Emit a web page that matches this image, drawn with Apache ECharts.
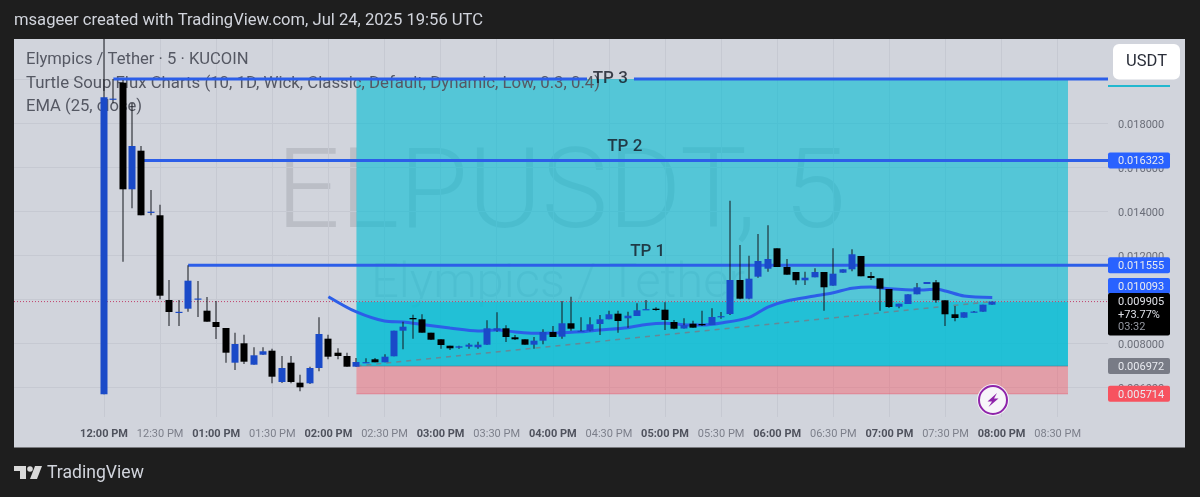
<!DOCTYPE html>
<html>
<head>
<meta charset="utf-8">
<style>
  html, body { margin: 0; padding: 0; background: #1e1e1e; }
  #chart { width: 1200px; height: 497px; }
</style>
<script src="https://cdn.jsdelivr.net/npm/echarts@6/dist/echarts.min.js"></script>
</head>
<body>
<div id="chart"></div>
<script>
// bars are counted from the 12:00 PM candle, one bar = 5 minutes
const opens = [
  0.005691,0.019100,0.019855,0.015009,0.016764,0.013970,0.013828,0.009978,0.009425,0.009582,
  0.010030,0.009491,0.008978,0.008705,0.007128,0.008009,0.007037,0.007491,0.007673,0.006250,
  0.007128,0.006219,0.006191,0.006887,0.008219,0.007582,0.007432,0.006946,0.007139,0.007282,
  0.007146,0.007419,0.008582,0.009159,0.009100,0.008491,0.008191,0.007900,0.007809,0.007855,
  0.007828,0.007946,0.008582,0.008691,0.008282,0.008191,0.007946,0.008128,0.008523,0.008309,
  0.008919,0.008562,0.008582,0.008887,0.009100,0.009355,0.009146,0.009250,0.009548,0.009582,
  0.009537,0.008978,0.008682,0.008900,0.008887,0.008841,0.009230,0.009341,0.010887,0.010037,
  0.011037,0.011400,0.012328,0.011478,0.011250,0.010873,0.011009,0.011250,0.010628,0.011219,
  0.011373,0.011978,0.011068,0.010964,0.010478,0.009673,0.009796,0.010237,0.010705,0.010782,
  0.009964,0.009328,0.009173,0.009440,0.009446,0.009764
];
const closes = [
  0.019191,0.019130,0.015009,0.016978,0.013828,0.013990,0.010173,0.009432,0.009440,0.010855,
  0.010045,0.008991,0.008750,0.007582,0.007978,0.007173,0.007464,0.007646,0.006491,0.006887,
  0.006250,0.006009,0.006887,0.008432,0.007400,0.007432,0.006946,0.007159,0.007153,0.007146,
  0.007400,0.008582,0.008764,0.009100,0.008491,0.008173,0.007932,0.007782,0.007873,0.007946,
  0.007946,0.008691,0.008691,0.008296,0.008191,0.007946,0.008128,0.008523,0.008296,0.008919,
  0.008673,0.008576,0.008873,0.009100,0.009328,0.009023,0.009264,0.009509,0.009562,0.009523,
  0.009069,0.008673,0.008832,0.008719,0.008828,0.009205,0.009244,0.010887,0.010037,0.010946,
  0.011750,0.011841,0.011478,0.011128,0.010873,0.010991,0.011250,0.010555,0.011173,0.011373,
  0.012055,0.011055,0.010978,0.010491,0.009659,0.009809,0.010237,0.010555,0.010796,0.009964,
  0.009328,0.009159,0.009419,0.009452,0.009764,0.009905
];
const lows = [
  0.005691,0.018932,0.011719,0.014146,0.013828,0.013828,0.010009,0.008796,0.008796,0.009446,
  0.009205,0.008991,0.008205,0.007128,0.006796,0.007069,0.007037,0.007477,0.006191,0.006205,
  0.006191,0.005828,0.006159,0.006737,0.007282,0.007282,0.006946,0.006946,0.007114,0.007146,
  0.007146,0.007419,0.007737,0.008219,0.008491,0.008159,0.007764,0.007705,0.007764,0.007764,
  0.007764,0.007946,0.008537,0.008069,0.008159,0.007946,0.007764,0.007964,0.008296,0.008219,
  0.008582,0.008523,0.008555,0.008387,0.009100,0.008491,0.008719,0.009250,0.009532,0.009491,
  0.008614,0.008646,0.008682,0.008719,0.008796,0.008841,0.009128,0.009296,0.010009,0.010009,
  0.010991,0.011264,0.011478,0.011128,0.010673,0.010659,0.011009,0.009491,0.010628,0.011219,
  0.011282,0.011055,0.010887,0.009491,0.009614,0.009600,0.009796,0.010237,0.010705,0.009855,
  0.008796,0.009009,0.009173,0.009419,0.009446,0.009764
];
const highs = [
  0.023500,0.020023,0.019978,0.018932,0.016978,0.014978,0.014309,0.010887,0.009978,0.011555,
  0.010841,0.010114,0.009932,0.008705,0.008491,0.008400,0.007828,0.007828,0.007764,0.007432,
  0.007432,0.006582,0.006946,0.009191,0.008400,0.007782,0.007582,0.007341,0.007328,0.007341,
  0.007509,0.008582,0.008991,0.009309,0.009328,0.008491,0.008191,0.007900,0.007900,0.008009,
  0.008082,0.009055,0.009419,0.008828,0.008387,0.008191,0.008296,0.008646,0.008796,0.009932,
  0.010128,0.009191,0.009191,0.009296,0.009491,0.009491,0.009446,0.009828,0.009978,0.009646,
  0.009873,0.009069,0.009146,0.009037,0.009491,0.009600,0.009432,0.014491,0.012478,0.011991,
  0.012978,0.013373,0.012328,0.011841,0.011250,0.011264,0.011419,0.011250,0.012328,0.011373,
  0.012282,0.011978,0.011250,0.010964,0.010478,0.009809,0.010237,0.010750,0.010796,0.010887,
  0.009964,0.009705,0.009419,0.009478,0.009764,0.009905
];

// EMA (25)
const emaBars = [24,27,30,32,34,37,40,42,44,46,48,51,53,56,58,60,62,64,66,69,71,73,76,78,80,82,84,87,89,90,92,95];
const emaValues = [
  0.010128,0.009432,0.009023,0.008978,0.008864,0.008705,0.008569,0.008614,0.008523,0.008464,0.008478,
  0.008537,0.008614,0.008719,0.008864,0.008919,0.008855,0.008841,0.008932,0.009191,0.009659,0.009932,
  0.010159,0.010309,0.010509,0.010568,0.010487,0.010432,0.010464,0.010387,0.010159,0.010093
];

// trade levels
const tp3 = 0.020020;
const tp2 = 0.016323;
const tp1 = 0.011555;
const ema = 0.010093;
const lastPrice = 0.009905;
const entry = 0.006972;
const stop = 0.005714;
const lastChange = '+73.77%';
const countdown = '03:32';

// bar where each level starts / where the trade box sits
const tp3Start = 1;
const tp3GapFrom = 51.66;
const tp3GapTo = 56.68;
const tp2Start = 4;
const tp1Start = 9;
const boxStart = 27;
const boxEnd = 103.1;
const tpLabelBars = [54.15, 55.7, 58.15];
const tpLabels = ['TP 3', 'TP 2', 'TP 1'];

const priceTicks = [0.006, 0.008, 0.010, 0.012, 0.014, 0.016, 0.018, 0.020];
const priceLabels = [0.006, 0.008, 0.010, 0.012, 0.014, 0.016, 0.018];
const timeBars = [0,6,12,18,24,30,36,42,48,54,60,66,72,78,84,90,96,102];
const timeLabels = [
  '12:00 PM','12:30 PM','01:00 PM','01:30 PM','02:00 PM','02:30 PM','03:00 PM','03:30 PM','04:00 PM',
  '04:30 PM','05:00 PM','05:30 PM','06:00 PM','06:30 PM','07:00 PM','07:30 PM','08:00 PM','08:30 PM'
];

const xMin = -9.626;
const xMax = 107.38;
const yMin = 0.0046591;
const yMax = 0.0218409;

const BLUE = '#1a4ac8';
const LINE_BLUE = '#2c5ee8';
const FONT = 'Roboto';

const candleRows = opens.map((o, i) => [i, o, closes[i], lows[i], highs[i]]);

const renderCandle = (params, api) => {
  const x = api.value(0);
  const open = api.value(1);
  const close = api.value(2);
  const top = api.coord([x, Math.max(open, close)]);
  const bottom = api.coord([x, Math.min(open, close)]);
  const high = api.coord([x, api.value(4)]);
  const low = api.coord([x, api.value(3)]);
  const cx = Math.round(top[0]);
  return {
    type: 'group',
    children: [
      {
        type: 'rect',
        shape: { x: cx - 0.5, y: high[1], width: 1, height: low[1] - high[1] },
        style: { fill: '#15161c' }
      },
      {
        type: 'rect',
        shape: { x: cx - 3.5, y: top[1], width: 7, height: Math.max(bottom[1] - top[1], 1.2) },
        style: { fill: close > open ? BLUE : '#000' }
      }
    ]
  };
};

// right scale tags, the ema tag is pushed up by the scale so it clears the last price
const tagPrices = [tp2, tp1, ema, entry, stop];
const tagColors = ['#2962ff', '#2962ff', '#2962ff', '#787b86', '#f7525f'];
const tagShift = [0, 0, -11.5, 0, 0];

const renderTag = (params, api) => {
  const i = params.dataIndex;
  const y = api.coord([0, api.value(0)])[1] + tagShift[i];
  return {
    type: 'group',
    children: [
      {
        type: 'rect',
        shape: { x: 1108, y: y - 8, width: 62, height: 16, r: 2 },
        style: { fill: tagColors[i] }
      },
      {
        type: 'text',
        style: {
          x: 1118, y: y + 1, text: api.value(0).toFixed(6), fill: '#e8eaf0',
          font: '11px ' + FONT, verticalAlign: 'middle'
        }
      }
    ]
  };
};

const renderLastPrice = (params, api) => {
  const y = api.coord([0, api.value(0)])[1];
  const line = (text, dy, fill) => ({
    type: 'text',
    style: { x: 1118, y: y + dy, text: text, fill: fill, font: '11px ' + FONT, verticalAlign: 'middle' }
  });
  return {
    type: 'group',
    children: [
      { type: 'rect', shape: { x: 1108, y: y - 8.5, width: 62, height: 42.5, r: 2 }, style: { fill: '#000' } },
      line(api.value(0).toFixed(6), 1, '#dfe1e8'),
      line(lastChange, 14, '#dfe1e8'),
      line(countdown, 26, '#9598a1')
    ]
  };
};

const chart = echarts.init(document.getElementById('chart'), null, { renderer: 'canvas' });

chart.setOption({
  animation: false,
  backgroundColor: '#1e1e1e',
  textStyle: { fontFamily: FONT },
  grid: { left: 14, top: 39, width: 1094, height: 378 },
  xAxis: {
    type: 'value',
    min: xMin,
    max: xMax,
    axisLine: { show: false },
    axisTick: { show: false, customValues: timeBars },
    splitLine: { show: true, lineStyle: { color: '#c6c9d2', width: 1 } },
    axisLabel: {
      customValues: timeBars,
      margin: 12,
      hideOverlap: false,
      formatter: (value) => {
        const i = timeBars.indexOf(value);
        return i % 2 === 0 ? '{hour|' + timeLabels[i] + '}' : '{half|' + timeLabels[i] + '}';
      },
      rich: {
        hour: { fontFamily: FONT, fontSize: 11, fontWeight: 700, color: '#4f525d' },
        half: { fontFamily: FONT, fontSize: 11, color: '#7c7f8a' }
      }
    }
  },
  yAxis: {
    type: 'value',
    position: 'right',
    min: yMin,
    max: yMax,
    axisLine: { show: false },
    axisTick: { show: false, customValues: priceTicks },
    splitLine: { show: true, lineStyle: { color: '#c6c9d2', width: 1 } },
    axisLabel: {
      customValues: priceLabels,
      margin: 10,
      formatter: (value) => '{p|' + value.toFixed(6) + '}',
      rich: {
        p: { fontFamily: FONT, fontSize: 11, color: '#6a6d78', padding: [3, 0, 0, 0] }
      }
    }
  },
  graphic: [
    { type: 'rect', z: -10, shape: { x: 14, y: 39, width: 1171, height: 408.5 }, style: { fill: '#d1d4dc' } },
    {
      type: 'text', z: -9, x: 14, y: 21,
      style: {
        text: 'msageer created with TradingView.com, Jul 24, 2025 19:56 UTC',
        fill: '#d1d4dc', font: '16.6px ' + FONT, verticalAlign: 'middle'
      }
    },
    {
      type: 'text', z: -9, x: 561, y: 199,
      style: {
        text: 'ELPUSDT, 5', fill: 'rgba(110,113,124,0.22)', font: '300 112px ' + FONT,
        align: 'center', verticalAlign: 'middle'
      }
    },
    {
      type: 'text', z: -9, x: 558, y: 285,
      style: {
        text: 'Elympics / Tether', fill: 'rgba(110,113,124,0.16)', font: '300 49px ' + FONT,
        align: 'center', verticalAlign: 'middle'
      }
    },

    // legend sits above the trade box but under lines and candles
    { type: 'text', z: 1.5, x: 26, y: 60, style: { text: 'Elympics / Tether · 5 · KUCOIN', fill: '#555863', font: '16.6px ' + FONT, verticalAlign: 'middle' } },
    { type: 'text', z: 1.5, x: 26, y: 84, style: { text: 'Turtle Soup Flux Charts (10, 1D, Wick, Classic, Default, Dynamic, Low, 0.3, 0.4)', fill: '#555863', font: '16.8px ' + FONT, verticalAlign: 'middle' } },
    { type: 'text', z: 1.5, x: 26, y: 107, style: { text: 'EMA (25, close)', fill: '#555863', font: '16.6px ' + FONT, verticalAlign: 'middle' } },

    // USDT button and what is left of the tp3 tag under it
    { type: 'rect', z: 20, shape: { x: 1108, y: 85, width: 62, height: 2 }, style: { fill: '#22b8cf' } },
    { type: 'rect', z: 21, shape: { x: 1113, y: 44, width: 67, height: 35.5, r: 6 }, style: { fill: '#fff' } },
    { type: 'text', z: 22, x: 1146.5, y: 61.5, style: { text: 'USDT', fill: '#2a2e39', font: '16.5px ' + FONT, align: 'center', verticalAlign: 'middle' } },

    // lightning badge
    { type: 'circle', z: 20, shape: { cx: 993, cy: 400, r: 16 }, style: { fill: '#f4f0f6' } },
    { type: 'circle', z: 20, shape: { cx: 993, cy: 400, r: 14 }, style: { fill: '#f7f5f9', stroke: '#8e24aa', lineWidth: 2 } },
    { type: 'polygon', z: 21, shape: { points: [[997, 393], [987.5, 401.5], [992, 401.5], [988.5, 407], [998.5, 398.5], [994, 398.5]] }, style: { fill: '#8e24aa' } },

    // footer logo
    { type: 'rect', z: 5, shape: { x: 14, y: 466, width: 12, height: 5 }, style: { fill: '#d9d9d9' } },
    { type: 'rect', z: 5, shape: { x: 20, y: 466, width: 6, height: 13 }, style: { fill: '#d9d9d9' } },
    { type: 'circle', z: 5, shape: { cx: 30, cy: 469, r: 2.8 }, style: { fill: '#d9d9d9' } },
    { type: 'polygon', z: 5, shape: { points: [[35, 466], [42, 466], [37, 479], [30, 479]] }, style: { fill: '#d9d9d9' } },
    { type: 'text', z: 5, x: 47, y: 474, style: { text: 'TradingView', fill: '#d1d4dc', font: '17.6px ' + FONT, verticalAlign: 'middle' } }
  ],
  series: [
    {
      // trade box
      type: 'line',
      z: 1,
      data: [],
      silent: true,
      markArea: {
        silent: true,
        data: [
          [{ xAxis: boxStart, yAxis: tp3, itemStyle: { color: 'rgba(0,188,212,0.6)' } }, { xAxis: boxEnd, yAxis: lastPrice }],
          [{ xAxis: boxStart, yAxis: lastPrice, itemStyle: { color: 'rgba(0,188,212,0.84)' } }, { xAxis: boxEnd, yAxis: entry }],
          [{ xAxis: boxStart, yAxis: entry, itemStyle: { color: 'rgba(255,70,85,0.38)' } }, { xAxis: boxEnd, yAxis: stop }]
        ]
      }
    },
    {
      // box edges: entry and stop
      type: 'line',
      z: 2,
      symbol: 'none',
      data: [[boxStart, entry], [boxEnd, entry]],
      lineStyle: { color: 'rgba(70,110,130,0.5)', width: 1 }
    },
    {
      type: 'line',
      z: 2,
      symbol: 'none',
      data: [[boxStart, stop], [boxEnd, stop]],
      lineStyle: { color: 'rgba(225,90,110,0.55)', width: 1 }
    },
    {
      // last price dotted line
      type: 'line',
      z: 2,
      symbol: 'none',
      data: [[xMin, lastPrice], [xMax, lastPrice]],
      lineStyle: { color: '#c2416b', width: 1, type: [1, 2] }
    },
    {
      // entry to last price trend
      type: 'line',
      z: 2,
      symbol: 'none',
      data: [[boxStart, entry], [opens.length - 1, lastPrice]],
      lineStyle: { color: 'rgba(120,123,134,0.8)', width: 1.5, type: [5, 5] }
    },
    {
      type: 'line',
      name: 'TP 3',
      z: 3,
      symbol: 'none',
      data: [[tp3Start, tp3], [tp3GapFrom, tp3], [null, null], [tp3GapTo, tp3], [xMax, tp3]],
      connectNulls: false,
      lineStyle: { color: LINE_BLUE, width: 3 }
    },
    {
      type: 'line',
      name: 'TP 2',
      z: 3,
      symbol: 'none',
      data: [[tp2Start, tp2], [xMax, tp2]],
      lineStyle: { color: LINE_BLUE, width: 3 }
    },
    {
      type: 'line',
      name: 'TP 1',
      z: 3,
      symbol: 'none',
      data: [[tp1Start, tp1], [xMax, tp1]],
      lineStyle: { color: LINE_BLUE, width: 3 }
    },
    {
      type: 'line',
      name: 'EMA',
      z: 3,
      symbol: 'none',
      smooth: 0.3,
      data: emaBars.map((b, i) => [b, emaValues[i]]),
      lineStyle: { color: '#2c5ee8', width: 3 }
    },
    {
      type: 'custom',
      name: 'candles',
      z: 4,
      clip: true,
      renderItem: renderCandle,
      encode: { x: 0, y: [1, 2, 3, 4] },
      data: candleRows
    },
    {
      // TP captions
      type: 'scatter',
      z: 6,
      symbolSize: 1,
      itemStyle: { color: 'transparent' },
      data: [[tpLabelBars[0], tp3], [tpLabelBars[1], tp2], [tpLabelBars[2], tp1]],
      label: {
        show: true,
        formatter: (p) => tpLabels[p.dataIndex],
        position: 'top',
        distance: 5,
        fontFamily: FONT,
        fontSize: 17,
        fontWeight: 500,
        color: '#131722'
      },
      labelLayout: (p) => (p.dataIndex === 0 ? { dy: 14 } : {})
    },
    {
      type: 'custom',
      name: 'tags',
      z: 8,
      clip: false,
      renderItem: renderTag,
      encode: { y: 0 },
      data: tagPrices.map((v) => [v])
    },
    {
      type: 'custom',
      name: 'last',
      z: 8,
      clip: false,
      renderItem: renderLastPrice,
      encode: { y: 0 },
      data: [[lastPrice]]
    }
  ]
});
</script>
</body>
</html>
